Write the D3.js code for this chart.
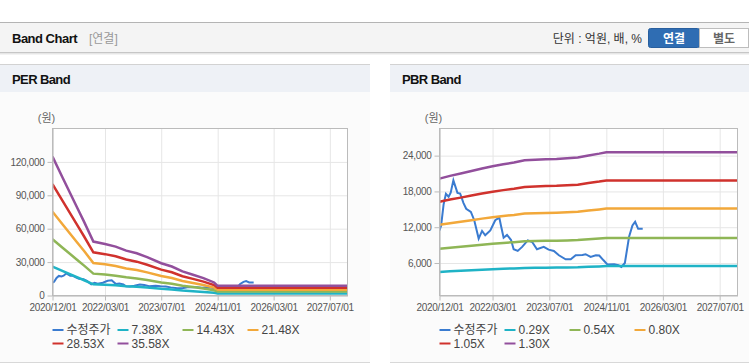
<!DOCTYPE html>
<html>
<head>
<meta charset="utf-8">
<script src="https://cdn.jsdelivr.net/npm/d3@7"></script>
<style>
body { margin: 0; background: #fff; font-family: "Liberation Sans", Arial, "Noto Sans CJK KR", sans-serif; }
svg { display: block; }
.grid line { stroke: #e6e6e6; }
.grid path { display: none; }
.axis path, .axis line { stroke: #bbb; }
.axis text { fill: #555; font-size: 10px; letter-spacing: -0.3px; }
.band { fill: none; stroke-width: 2.5; }
.price { fill: none; stroke-width: 2; }
.legend text { fill: #444; font-size: 12px; }
</style>
</head>
<body>
<svg id="chart" width="749" height="364"></svg>
<script>
// PER band: dates and band prices (원)
const perDates = ['2020-12-01', '2021-03-01', '2021-07-01', '2021-09-01', '2021-11-20', '2022-03-01',
  '2022-06-01', '2022-09-01', '2022-12-01', '2023-03-01', '2023-07-01', '2023-10-01', '2024-01-01',
  '2024-04-01', '2024-07-01', '2024-10-01', '2024-11-01', '2027-12-01'];
const per738 = [25867, 21845, 16450, 13712, 10044, 9609, 9107, 8362, 7860, 7136, 6015, 5395, 4480, 3860, 3232, 2428, 1808, 1808];
const per1443 = [50577, 42713, 32164, 26811, 19639, 18788, 17807, 16349, 15368, 13954, 11760, 10548, 8759, 7547, 6320, 4747, 3535, 3535];
const per2148 = [75287, 63581, 47879, 39910, 29234, 27967, 26506, 24337, 22876, 20771, 17506, 15702, 13038, 11234, 9408, 7067, 5263, 5263];
const per2853 = [99998, 84449, 63593, 53009, 38829, 37146, 35206, 32324, 30384, 27589, 23252, 20855, 17318, 14921, 12496, 9386, 6990, 6990];
const per3558 = [124708, 105317, 79308, 66108, 48424, 46325, 43906, 40312, 37893, 34406, 28998, 26009, 21597, 18608, 15584, 11706, 8717, 8717];

// PBR band
const pbrDates = ['2020-12-01', '2021-03-01', '2021-06-01', '2021-09-01', '2021-12-01', '2022-03-01',
  '2022-06-01', '2022-09-01', '2022-12-01', '2023-03-01', '2023-06-01', '2023-09-01', '2023-12-01',
  '2024-03-01', '2024-06-01', '2024-09-01', '2024-11-01', '2027-12-01'];
const pbr029 = [4495, 4597, 4684, 4779, 4872, 4956, 5032, 5095, 5179, 5200, 5217, 5229, 5252, 5284, 5362, 5429, 5481, 5481];
const pbr054 = [8370, 8559, 8721, 8899, 9072, 9229, 9369, 9488, 9644, 9682, 9715, 9736, 9779, 9839, 9985, 10109, 10206, 10206];
const pbr080 = [12400, 12680, 12920, 13184, 13440, 13672, 13880, 14056, 14288, 14344, 14392, 14424, 14488, 14576, 14792, 14976, 15120, 15120];
const pbr105 = [16275, 16643, 16958, 17304, 17640, 17945, 18218, 18449, 18753, 18827, 18890, 18932, 19016, 19131, 19415, 19656, 19845, 19845];
const pbr130 = [20150, 20605, 20995, 21424, 21840, 22217, 22555, 22841, 23218, 23309, 23387, 23439, 23543, 23686, 24037, 24336, 24570, 24570];

// 수정주가 (shared by both charts)
const priceDates = ['2020-12-01', '2020-12-15', '2021-01-05', '2021-01-25', '2021-02-17', '2021-03-07',
  '2021-03-30', '2021-05-04', '2021-05-27', '2021-06-25', '2021-07-18', '2021-08-27', '2021-09-25',
  '2021-11-02', '2021-12-01', '2021-12-28', '2022-02-10', '2022-03-24', '2022-04-28', '2022-05-12',
  '2022-06-04', '2022-07-03', '2022-08-07', '2022-08-29', '2022-10-03', '2022-11-10', '2022-12-28',
  '2023-02-04', '2023-03-17', '2023-05-14', '2023-06-25', '2023-08-09', '2023-09-21', '2023-11-18',
  '2024-01-01', '2024-02-12', '2024-04-10', '2024-05-07', '2024-06-19', '2024-08-03', '2024-09-01',
  '2024-10-08', '2024-11-12', '2025-01-07', '2025-02-12', '2025-03-10', '2025-04-09', '2025-05-15',
  '2025-06-13', '2025-07-06', '2025-08-01', '2025-09-09'];
const priceValues = [11480, 12300, 15800, 17600, 17100, 17800, 19860, 17750, 17650, 16050, 15100, 14560, 13170,
  10100, 11370, 10640, 11460, 13170, 13600, 12300, 10240, 10700, 9850, 8300, 8020, 8700, 9800,
  9520, 8300, 8700, 8240, 8020, 7300, 6620, 6620, 7300, 7350, 7470, 7020, 7300, 7250,
  6450, 5730, 5790, 5620, 5340, 6010, 10400, 12300, 12900, 11730, 11730];

const xTicks = ['2020-12-01', '2022-03-01', '2023-07-01', '2024-11-01', '2026-03-01', '2027-07-01'];
const xDomain = ['2020-12-01', '2027-12-01'];
const perYTicks = [0, 30000, 60000, 90000, 120000];
const pbrYTicks = [6000, 12000, 18000, 24000];
const perLabels = ['수정주가', '7.38X', '14.43X', '21.48X', '28.53X', '35.58X'];
const pbrLabels = ['수정주가', '0.29X', '0.54X', '0.80X', '1.05X', '1.30X'];

const colors = ['#3a7bd0', '#1fb3c6', '#8fb656', '#f2a83a', '#d0322d', '#924f9c'];
const parse = d3.timeParse('%Y-%m-%d');

const svg = d3.select('#chart');

function drawHeader() {
  svg.append('rect').attr('x', 0).attr('y', 22).attr('width', 749).attr('height', 31).attr('fill', '#f4f4f4');
  svg.append('line').attr('x1', 0).attr('x2', 749).attr('y1', 22.5).attr('y2', 22.5).attr('stroke', '#b4b4b4');
  svg.append('line').attr('x1', 0).attr('x2', 749).attr('y1', 52.5).attr('y2', 52.5).attr('stroke', '#c6c6c6');
  svg.append('line').attr('x1', 0).attr('x2', 749).attr('y1', 53.5).attr('y2', 53.5).attr('stroke', '#e6e6e6');
  svg.append('line').attr('x1', 0).attr('x2', 749).attr('y1', 54.5).attr('y2', 54.5).attr('stroke', '#f3f3f3');
  svg.append('text').attr('x', 12).attr('y', 43)
    .style('font-size', '13px').style('font-weight', 'bold').style('letter-spacing', '-0.5px')
    .attr('fill', '#111').text('Band Chart');
  svg.append('text').attr('x', 89).attr('y', 43)
    .style('font-size', '12px').attr('fill', '#999').text('[연결]');
  svg.append('text').attr('x', 642).attr('y', 43).attr('text-anchor', 'end')
    .style('font-size', '12px').attr('fill', '#333').text('단위 : 억원, 배, %');
  // buttons
  svg.append('rect').attr('x', 648.5).attr('y', 28.5).attr('width', 51).attr('height', 19).attr('rx', 2)
    .attr('fill', '#2f6db3').attr('stroke', '#295f9e');
  svg.append('text').attr('x', 674).attr('y', 42.5).attr('text-anchor', 'middle')
    .style('font-size', '12px').style('font-weight', 'bold').attr('fill', '#fff').text('연결');
  svg.append('rect').attr('x', 699.5).attr('y', 28.5).attr('width', 49).attr('height', 19)
    .attr('fill', '#fff').attr('stroke', '#bdbdbd');
  svg.append('text').attr('x', 724).attr('y', 42.5).attr('text-anchor', 'middle')
    .style('font-size', '12px').style('font-weight', 'bold').attr('fill', '#666').text('별도');
}

function drawPanel({left, width, title, plot, yDomain, yTicks, bandDates, bands, labels}) {
  const g = svg.append('g');
  g.append('rect').attr('x', left).attr('y', 64).attr('width', width).attr('height', 298).attr('fill', '#fbfbfb');
  g.append('rect').attr('x', left).attr('y', 65).attr('width', width).attr('height', 27).attr('fill', '#eef1f6');
  g.append('line').attr('x1', left).attr('x2', left + width).attr('y1', 64.5).attr('y2', 64.5).attr('stroke', '#d2d2d2');
  g.append('line').attr('x1', left).attr('x2', left + width).attr('y1', 362.5).attr('y2', 362.5).attr('stroke', '#d8d8d8');
  g.append('text').attr('x', left + 12).attr('y', 84)
    .style('font-size', '13px').style('font-weight', 'bold').style('letter-spacing', '-0.6px')
    .attr('fill', '#111').text(title);
  g.append('text').attr('x', plot.x0 - 6).attr('y', 122).attr('text-anchor', 'middle')
    .style('font-size', '11px').attr('fill', '#666').text('(원)');

  const xScale = d3.scaleTime().domain(xDomain.map(parse)).range([plot.x0, plot.x1]);
  const yScale = d3.scaleLinear().domain(yDomain).range([plot.y1, plot.y0]);
  const pw = plot.x1 - plot.x0;
  const ph = plot.y1 - plot.y0;

  g.append('rect').attr('x', plot.x0).attr('y', plot.y0).attr('width', pw).attr('height', ph).attr('fill', '#fff');

  // grid
  g.append('g').attr('class', 'grid').attr('transform', `translate(0,${plot.y1})`)
    .call(d3.axisBottom(xScale).tickValues(xTicks.map(parse)).tickSize(-ph).tickFormat(''));
  g.append('g').attr('class', 'grid').attr('transform', `translate(${plot.x0},0)`)
    .call(d3.axisLeft(yScale).tickValues(yTicks).tickSize(-pw).tickFormat(''));

  const clipId = 'clip' + left;
  g.append('clipPath').attr('id', clipId).append('rect')
    .attr('x', plot.x0).attr('y', plot.y0).attr('width', pw).attr('height', ph);

  const line = d3.line().x(d => xScale(d[0])).y(d => yScale(d[1]));
  const lines = g.append('g').attr('clip-path', `url(#${clipId})`);
  lines.append('path').attr('class', 'price').attr('stroke', colors[0])
    .attr('d', line(priceDates.map((d, i) => [parse(d), priceValues[i]])));
  bands.forEach((b, k) => {
    lines.append('path').attr('class', 'band').attr('stroke', colors[k + 1])
      .attr('d', line(bandDates.map((d, i) => [parse(d), b[i]])));
  });

  // frame + axes
  g.append('rect').attr('x', plot.x0).attr('y', plot.y0).attr('width', pw).attr('height', ph)
    .attr('fill', 'none').attr('stroke', '#bbb');
  g.append('g').attr('class', 'axis').attr('transform', `translate(0,${plot.y1})`)
    .call(d3.axisBottom(xScale).tickValues(xTicks.map(parse)).tickSize(5).tickSizeOuter(0)
      .tickFormat(d3.timeFormat('%Y/%m/%d')));
  g.append('g').attr('class', 'axis').attr('transform', `translate(${plot.x0},0)`)
    .call(d3.axisLeft(yScale).tickValues(yTicks).tickSize(5).tickSizeOuter(0).tickFormat(d3.format(',')));

  // legend
  const legend = g.append('g').attr('class', 'legend')
    .selectAll('g').data(labels).enter().append('g')
    .attr('transform', (_, i) => `translate(${plot.x0 + (i % 4) * 65},${330 + Math.floor(i / 4) * 13.5})`);
  legend.append('line').attr('x1', 0).attr('x2', 11).attr('stroke-width', 2)
    .attr('stroke', (_, i) => colors[i]);
  legend.append('text').attr('x', 14).attr('dy', '.35em').text(d => d);
}

drawHeader();
drawPanel({
  left: 0, width: 370, title: 'PER Band',
  plot: {x0: 52.5, x1: 347.5, y0: 128.5, y1: 295.5},
  yDomain: [0, 150000], yTicks: perYTicks, bandDates: perDates,
  bands: [per738, per1443, per2148, per2853, per3558], labels: perLabels
});
drawPanel({
  left: 390, width: 359, title: 'PBR Band',
  plot: {x0: 439.5, x1: 737.5, y0: 128.5, y1: 295.5},
  yDomain: [550, 28550], yTicks: pbrYTicks, bandDates: pbrDates,
  bands: [pbr029, pbr054, pbr080, pbr105, pbr130], labels: pbrLabels
});
</script>
</body>
</html>
